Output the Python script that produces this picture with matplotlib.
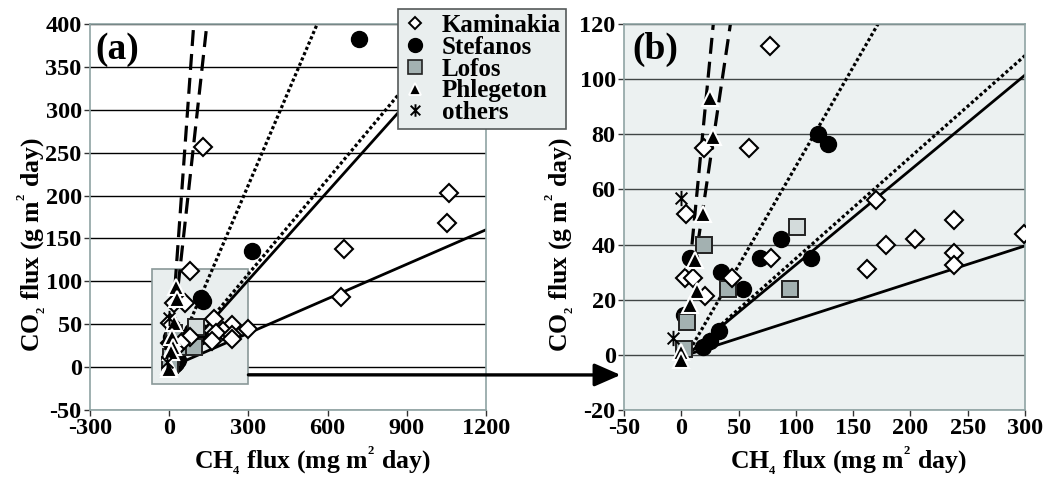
import numpy as np
import matplotlib.pyplot as plt
from matplotlib.lines import Line2D
from matplotlib.patches import Rectangle
from matplotlib.path import Path

plt.rcParams['font.family'] = ['Liberation Serif', 'DejaVu Serif']
plt.rcParams['font.weight'] = 'bold'
plt.rcParams['mathtext.default'] = 'regular'
plt.rcParams['axes.unicode_minus'] = False

# CH4 flux (x) / CO2 flux (y) per site
kam_x = [77, 20, 59, 4, 170, 238, 299, 204, 179, 238, 238, 162, 78, 3, 10, 44, 21, 129, 663, 650, 1051, 1061]
kam_y = [112, 75, 75, 51, 56, 49, 44, 42, 40, 37, 32.5, 31, 35, 28, 28, 28, 21.5, 257, 138, 82, 168, 203]
ste_x = [119, 128, 87, 69, 113, 8, 35, 54, 2, 33, 25, 19, 315, 719]
ste_y = [80, 76.5, 42, 35, 35, 35, 30, 24, 14.5, 8.5, 5, 3, 135, 382]
lof_x = [101, 20, 41, 95, 5, 2]
lof_y = [46.5, 40, 24, 24, 12, 2]
phl_x = [25, 28, 19, 12, 14, 8, 0, 0]
phl_y = [93, 79, 51, 34.5, 23, 18, 1, -2]
oth_x = [0, -7]
oth_y = [57, 6]

# regression lines y = slope * (x - x0)
solid_slopes = [0.134, 0.344]
dotted_slopes = [0.368, 0.72]
dashed_slopes = [4.3, 2.8]
line_x0 = 5

site_names = ['Kaminakia', 'Stefanos', 'Lofos', 'Phlegeton', 'others']

# excel style asterisk: x with a vertical bar
asterisk = Path([(-1, -1), (1, 1), (-1, 1), (1, -1), (0, -1.3), (0, 1.3)],
                [Path.MOVETO, Path.LINETO, Path.MOVETO, Path.LINETO, Path.MOVETO, Path.LINETO])
gray_sq = '#a3b1b1'


def draw_panel(ax):
    xs = np.array([line_x0, 1300])
    for m in solid_slopes:
        ax.plot(xs, m * (xs - line_x0), color='black', lw=2.0, zorder=2, solid_capstyle='butt')
    for m in dotted_slopes:
        ax.plot(xs, m * (xs - line_x0), color='black', lw=2.3, ls=(0, (1, 0.8)), zorder=2)
    ys = np.array([40, 420])
    for m in dashed_slopes:
        ax.plot(ys / m, ys, color='black', lw=2.3, ls=(0, (5, 2.5)), zorder=2)

    ax.plot(ste_x, ste_y, ls='none', marker='o', ms=11.5, mfc='black', mec='black', zorder=3)
    faces = ['#d3dbdb' if i == 0 else gray_sq for i in range(len(lof_x))]
    for xx, yy, fc in zip(lof_x, lof_y, faces):
        ax.plot(xx, yy, ls='none', marker='s', ms=11.5, mfc=fc, mec='#222222', mew=1.4, zorder=3)
    ax.plot(kam_x, kam_y, ls='none', marker='D', ms=9, mfc='white', mec='black', mew=1.5, zorder=4)
    ax.plot(phl_x, phl_y, ls='none', marker='^', ms=12, mfc='black', mec='white', mew=1.5, zorder=4)
    ax.plot(oth_x, oth_y, ls='none', marker=asterisk, ms=11, mec='black', mew=1.4, zorder=4)

    ax.grid(axis='y', color='black', lw=1, zorder=0.5)
    ax.set_axisbelow(True)
    for s in ax.spines.values():
        s.set_color('#8fa3a3')
        s.set_linewidth(1.2)
    ax.tick_params(labelsize=17.5, length=4, width=1, color='#333333', pad=2)


fig = plt.figure(figsize=(10.55, 4.79), dpi=100)
ax_a = fig.add_axes([0.0853, 0.1441, 0.3754, 0.8058])
ax_b = fig.add_axes([0.5915, 0.1441, 0.3801, 0.8058])

draw_panel(ax_a)
ax_a.set_xlim(-300, 1200)
ax_a.set_ylim(-50, 400)
ax_a.set_xticks(range(-300, 1201, 300))
ax_a.set_yticks(range(-50, 401, 50))
ax_a.add_patch(Rectangle((-65, -20), 365, 134, facecolor='#e9eeee', edgecolor='#8a9898', lw=1.2, zorder=1))

draw_panel(ax_b)
ax_b.set_facecolor('#ecf1f1')
ax_b.grid(axis='y', color='#404545', lw=1)
ax_b.set_xlim(-50, 300)
ax_b.set_ylim(-20, 120)
ax_b.set_xticks(range(-50, 301, 50))
ax_b.set_yticks(range(-20, 121, 20))

for ax, tag, lx, ly in [(ax_a, '(a)', 0.013, -0.107), (ax_b, '(b)', 0.022, -0.12)]:
    ax.text(lx, 0.91, tag, transform=ax.transAxes, fontsize=27, fontweight='bold', va='baseline', zorder=6)
    ax.set_xlabel('CH$_{_4}$ flux (mg m$^{^2}$ day)', fontsize=18.5, fontweight='bold')
    ax.set_ylabel('CO$_{_2}$ flux (g m$^{^2}$ day)', fontsize=18.5, fontweight='bold')
    ax.xaxis.set_label_coords(0.56, -0.09)
    ax.yaxis.set_label_coords(ly, 0.43)

# arrow from the zoom box in (a) to panel (b)
ax_b.annotate('', xy=(-53, -7.3), xycoords='data', xytext=(300, -9), textcoords=ax_a.transData,
              arrowprops=dict(arrowstyle='-|>,head_length=0.8,head_width=0.35', color='black', lw=2.4,
                              mutation_scale=20, shrinkA=0, shrinkB=0),
              annotation_clip=False)

handles = [
    Line2D([], [], ls='none', marker='D', ms=6.5, mfc='white', mec='black', mew=1.4),
    Line2D([], [], ls='none', marker='o', ms=10, mfc='black', mec='black'),
    Line2D([], [], ls='none', marker='s', ms=10, mfc=gray_sq, mec='#222222', mew=1.2),
    Line2D([], [], ls='none', marker='^', ms=9, mfc='black', mec='white', mew=1.3),
    Line2D([], [], ls='none', marker=asterisk, ms=9, mec='black', mew=1.4),
]
leg = fig.legend(handles, site_names, loc='upper left', bbox_to_anchor=(0.3773, 0.9812),
                 borderaxespad=0, fontsize=18, labelspacing=-0.05, handlelength=0.96,
                 handletextpad=0.6, borderpad=0.2, fancybox=False, framealpha=1)
leg.get_frame().set_facecolor('#e9eeee')
leg.get_frame().set_edgecolor('#555a5a')
leg.get_frame().set_linewidth(1.2)

fig.savefig('out.png', dpi=100)
